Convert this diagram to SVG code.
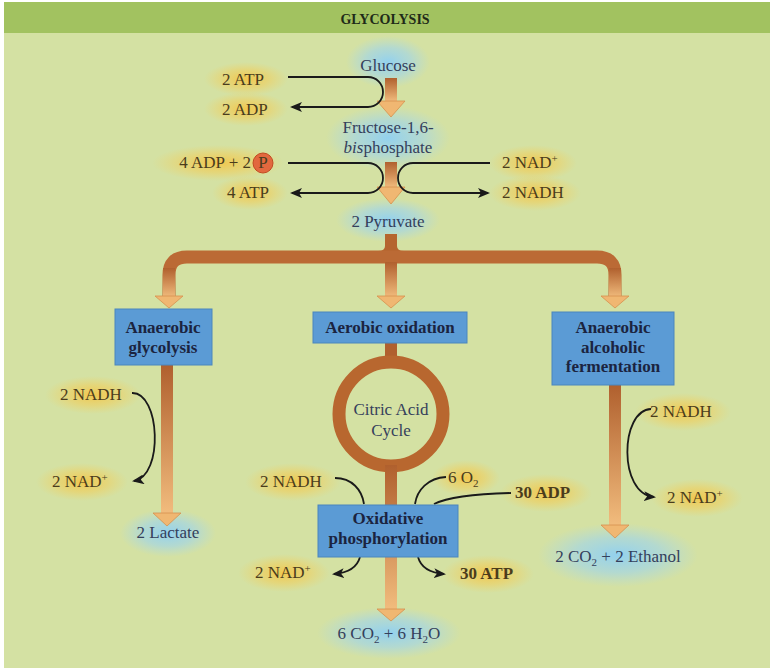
<svg xmlns="http://www.w3.org/2000/svg" width="770" height="668" viewBox="0 0 770 668">
<defs>
<radialGradient id="gy"><stop offset="0" stop-color="#f6c23e" stop-opacity="0.85"/><stop offset="0.55" stop-color="#f3cc55" stop-opacity="0.5"/><stop offset="1" stop-color="#f3d060" stop-opacity="0"/></radialGradient>
<radialGradient id="gb"><stop offset="0" stop-color="#8fd0f2" stop-opacity="0.95"/><stop offset="0.55" stop-color="#9dd4ee" stop-opacity="0.6"/><stop offset="1" stop-color="#a8d8ec" stop-opacity="0"/></radialGradient>
<linearGradient id="sh" x1="0" y1="0" x2="0" y2="1"><stop offset="0" stop-color="#b0602e"/><stop offset="1" stop-color="#f2bd7e"/></linearGradient>
<linearGradient id="shd" x1="0" y1="0" x2="0" y2="1"><stop offset="0" stop-color="#b0602e"/><stop offset="1" stop-color="#c27840"/></linearGradient>
<marker id="ah" viewBox="0 0 12 10" refX="10" refY="5" markerWidth="12" markerHeight="10" markerUnits="userSpaceOnUse" orient="auto"><path d="M0,0 L12,5 L0,10 L3,5 Z" fill="#1a1a1a"/></marker>
<style>
.t{font-family:"Liberation Serif","Times New Roman",serif;font-size:17px;fill:#4a3c1c}
.p{font-family:"Liberation Serif","Times New Roman",serif;font-size:17px;fill:#34405c}
.bx{font-family:"Liberation Serif","Times New Roman",serif;font-size:17px;font-weight:bold;fill:#1b2440}
.b{font-weight:bold}
.c{text-anchor:middle}
.box{fill:#5b9bd5;stroke:#4a86bd;stroke-width:1}
.ln{fill:none;stroke:#1a1a1a;stroke-width:1.8}
.hd{fill:#f0b772;stroke:#d6914e;stroke-width:0.8}
.sup{font-size:11px}
</style>
</defs>
<rect x="0" y="0" width="770" height="668" fill="#ffffff"/>
<rect x="4" y="2" width="766" height="666" fill="#d4e1a3"/>
<rect x="4" y="2" width="766" height="31" fill="#a2c260"/>
<text x="385" y="24" class="c" font-family="Liberation Serif, serif" font-size="14" font-weight="bold" fill="#1e2a18">GLYCOLYSIS</text>

<g id="glows">
<ellipse cx="388" cy="62" rx="42" ry="26" fill="url(#gb)"/>
<ellipse cx="388" cy="138" rx="62" ry="32" fill="url(#gb)"/>
<ellipse cx="388" cy="220" rx="52" ry="22" fill="url(#gb)"/>
<ellipse cx="168" cy="533" rx="48" ry="24" fill="url(#gb)"/>
<ellipse cx="389" cy="633" rx="72" ry="26" fill="url(#gb)"/>
<ellipse cx="618" cy="555" rx="80" ry="32" fill="url(#gb)"/>
<ellipse cx="246" cy="79" rx="42" ry="17" fill="url(#gy)"/>
<ellipse cx="246" cy="109" rx="42" ry="17" fill="url(#gy)"/>
<ellipse cx="218" cy="163" rx="66" ry="18" fill="url(#gy)"/>
<ellipse cx="250" cy="193" rx="38" ry="17" fill="url(#gy)"/>
<ellipse cx="533" cy="163" rx="44" ry="18" fill="url(#gy)"/>
<ellipse cx="535" cy="193" rx="46" ry="18" fill="url(#gy)"/>
<ellipse cx="93" cy="395" rx="48" ry="19" fill="url(#gy)"/>
<ellipse cx="82" cy="482" rx="46" ry="19" fill="url(#gy)"/>
<ellipse cx="293" cy="482" rx="48" ry="19" fill="url(#gy)"/>
<ellipse cx="466" cy="478" rx="34" ry="18" fill="url(#gy)"/>
<ellipse cx="546" cy="493" rx="46" ry="19" fill="url(#gy)"/>
<ellipse cx="284" cy="573" rx="46" ry="19" fill="url(#gy)"/>
<ellipse cx="488" cy="574" rx="46" ry="19" fill="url(#gy)"/>
<ellipse cx="683" cy="412" rx="48" ry="19" fill="url(#gy)"/>
<ellipse cx="697" cy="498" rx="46" ry="19" fill="url(#gy)"/>
</g>

<g id="connectors">
<!-- main pathway shafts -->
<rect x="385" y="78" width="12" height="24" fill="url(#sh)"/>
<polygon class="hd" points="377,101 405,101 391,117"/>
<rect x="385" y="162" width="12" height="26" fill="url(#sh)"/>
<polygon class="hd" points="377,187 405,187 391,204"/>
<path d="M385,234 L397,234 L397,246 Q397,251 404,251 L378,251 Q385,251 385,246 Z" fill="#b5652f"/>
<path d="M169,297 V275 Q169,257 187,257 H597 Q615,257 615,275 V297" fill="none" stroke="#bb6a35" stroke-width="13"/>
<rect x="163" y="268" width="12" height="30" fill="url(#sh)"/>
<polygon class="hd" points="155,296 183,296 169,308"/>
<rect x="385" y="262" width="12" height="36" fill="url(#sh)"/>
<polygon class="hd" points="377,296 405,296 391,308"/>
<rect x="609" y="268" width="12" height="30" fill="url(#sh)"/>
<polygon class="hd" points="601,296 629,296 615,308"/>
<!-- left branch -->
<rect x="161" y="365" width="12" height="150" fill="url(#sh)"/>
<polygon class="hd" points="153,513 181,513 167,526"/>
<!-- middle branch -->
<rect x="385" y="343" width="12" height="22" fill="#b0602e"/>
<circle cx="391" cy="414" r="52" fill="none" stroke="#b8672f" stroke-width="13"/>
<rect x="385" y="465" width="12" height="146" fill="url(#sh)"/>
<polygon class="hd" points="377,609 405,609 391,621"/>
<!-- right branch -->
<rect x="609" y="385" width="12" height="142" fill="url(#sh)"/>
<polygon class="hd" points="601,525 629,525 615,538"/>
<!-- black side reactions -->
<path class="ln" d="M288,77 H368 A15,15 0 0 1 368,107 H292" marker-end="url(#ah)"/>
<path class="ln" d="M288,163 H368 A15,15 0 0 1 368,193 H292" marker-end="url(#ah)"/>
<path class="ln" d="M490,163 H413 A15,15 0 0 0 413,193 H488" marker-end="url(#ah)"/>
<path class="ln" d="M132,393 C160,392 164,476 134,481" marker-end="url(#ah)"/>
<path class="ln" d="M651,409 C620,410 618,494 654,497" marker-end="url(#ah)"/>
<path class="ln" d="M335,478 C352,478 362,490 364,504"/>
<path class="ln" d="M446,477 C428,478 417,490 415,504"/>
<path class="ln" d="M511,493 C470,494 446,498 434,504"/>
<path class="ln" d="M360,557 C357,568 346,573 334,574" marker-end="url(#ah)"/>
<path class="ln" d="M418,557 C421,568 432,573 444,574" marker-end="url(#ah)"/>
</g>

<g id="glucose"><text x="388" y="71" class="p c">Glucose</text></g>
<g id="fructose"><text x="388" y="133" class="p c">Fructose-1,6-</text><text x="388" y="153" class="p c"><tspan font-style="italic">bis</tspan>phosphate</text></g>
<g id="pyruvate"><text x="388" y="227" class="p c">2 Pyruvate</text></g>
<g id="atp-in"><text x="222" y="85" class="t">2 ATP</text></g>
<g id="adp-out"><text x="222" y="115" class="t">2 ADP</text></g>
<g id="adp-in"><text x="251" y="168" class="t" text-anchor="end">4 ADP + 2</text><circle cx="263" cy="163" r="10" fill="#e2683e" stroke="#c24a22" stroke-width="1"/><text x="263" y="168" class="t c" font-size="14">P</text></g>
<g id="atp-out"><text x="227" y="198" class="t">4 ATP</text></g>
<g id="nad-in"><text x="502" y="168" class="t">2 NAD<tspan class="sup" dy="-6">+</tspan></text></g>
<g id="nadh-out"><text x="502" y="198" class="t">2 NADH</text></g>

<g id="anaerobic-glycolysis"><rect class="box" x="115" y="309" width="97" height="56"/><text x="163" y="333" class="bx c">Anaerobic</text><text x="163" y="353" class="bx c">glycolysis</text></g>
<g id="aerobic-oxidation"><rect class="box" x="313" y="312" width="154" height="31"/><text x="390" y="333" class="bx c">Aerobic oxidation</text></g>
<g id="alcoholic-fermentation"><rect class="box" x="552" y="312" width="122" height="73"/><text x="613" y="333" class="bx c">Anaerobic</text><text x="613" y="353" class="bx c">alcoholic</text><text x="613" y="372" class="bx c">fermentation</text></g>

<g id="citric-acid-cycle"><text x="391" y="415" class="p c">Citric Acid</text><text x="391" y="436" class="p c">Cycle</text></g>

<g id="left-nadh"><text x="60" y="400" class="t">2 NADH</text></g>
<g id="left-nad"><text x="52" y="487" class="t">2 NAD<tspan class="sup" dy="-6">+</tspan></text></g>
<g id="lactate"><text x="168" y="538" class="p c">2 Lactate</text></g>

<g id="mid-nadh"><text x="260" y="487" class="t">2 NADH</text></g>
<g id="o2"><text x="448" y="483" class="t">6 O<tspan class="sup" dy="4">2</tspan></text></g>
<g id="adp30"><text x="515" y="498" class="t b">30 ADP</text></g>
<g id="oxidative-phosphorylation"><rect class="box" x="318" y="505" width="140" height="52"/><text x="388" y="524" class="bx c">Oxidative</text><text x="388" y="544" class="bx c">phosphorylation</text></g>
<g id="mid-nad"><text x="255" y="578" class="t">2 NAD<tspan class="sup" dy="-6">+</tspan></text></g>
<g id="atp30"><text x="460" y="579" class="t b">30 ATP</text></g>
<g id="co2-h2o"><text x="389" y="639" class="p c">6 CO<tspan class="sup" dy="4">2</tspan><tspan dy="-4"> + 6 H</tspan><tspan class="sup" dy="4">2</tspan><tspan dy="-4">O</tspan></text></g>

<g id="right-nadh"><text x="650" y="417" class="t">2 NADH</text></g>
<g id="right-nad"><text x="667" y="503" class="t">2 NAD<tspan class="sup" dy="-6">+</tspan></text></g>
<g id="co2-ethanol"><text x="618" y="562" class="p c">2 CO<tspan class="sup" dy="4">2</tspan><tspan dy="-4"> + 2 Ethanol</tspan></text></g>
</svg>
